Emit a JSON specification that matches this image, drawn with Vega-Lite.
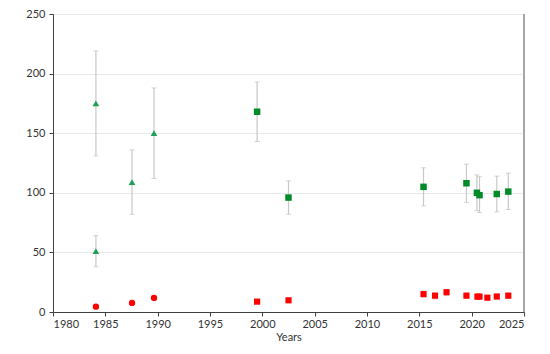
{
  "$schema": "https://vega.github.io/schema/vega-lite/v6.json",
  "autosize": "none",
  "width": 471,
  "height": 298,
  "padding": {"left": 53, "top": 14, "right": 26, "bottom": 42},
  "background": "white",
  "view": {"stroke": "#a6a6a6", "strokeWidth": 1, "fill": "white"},
  "config": {
    "font": "Lato",
    "axis": {"labelFont": "Lato", "titleFont": "Lato", "labelFontSize": 11, "labelColor": "#333333", "titleColor": "#333333", "titleFontWeight": "normal", "titleFontSize": 11}
  },
  "data": {"values": [
    {"year": 1984.1, "value": 175, "lo": 131, "hi": 219, "series": "gt"},
    {"year": 1984.1, "value": 51, "lo": 38, "hi": 64, "series": "gt"},
    {"year": 1987.55, "value": 109, "lo": 82, "hi": 136, "series": "gt"},
    {"year": 1989.65, "value": 150, "lo": 112, "hi": 188, "series": "gt"},
    {"year": 1999.5, "value": 168, "lo": 143, "hi": 193, "series": "gs"},
    {"year": 2002.5, "value": 96, "lo": 82, "hi": 110, "series": "gs"},
    {"year": 2015.4, "value": 105, "lo": 89, "hi": 121, "series": "gs"},
    {"year": 2019.5, "value": 108, "lo": 92, "hi": 124, "series": "gs"},
    {"year": 2020.5, "value": 100, "lo": 85, "hi": 115, "series": "gs"},
    {"year": 2020.75, "value": 98, "lo": 83.5, "hi": 113.5, "series": "gs"},
    {"year": 2022.4, "value": 99, "lo": 84, "hi": 114, "series": "gs"},
    {"year": 2023.5, "value": 101, "lo": 86, "hi": 116.5, "series": "gs"},
    {"year": 1984.1, "value": 4.5, "lo": 3, "hi": 6, "series": "rc"},
    {"year": 1987.55, "value": 7.6, "lo": 7, "hi": 8.2, "series": "rc"},
    {"year": 1989.65, "value": 11.8, "lo": 10.5, "hi": 13, "series": "rc"},
    {"year": 1999.5, "value": 8.7, "lo": 8, "hi": 9.4, "series": "rs"},
    {"year": 2002.5, "value": 9.8, "lo": 9, "hi": 10.6, "series": "rs"},
    {"year": 2015.4, "value": 15, "lo": 12.5, "hi": 17.5, "series": "rs"},
    {"year": 2016.5, "value": 13.7, "lo": 11, "hi": 16, "series": "rs"},
    {"year": 2017.6, "value": 16.6, "lo": 13.7, "hi": 19, "series": "rs"},
    {"year": 2019.5, "value": 13.7, "lo": 11.5, "hi": 16, "series": "rs"},
    {"year": 2020.55, "value": 12.9, "lo": 11, "hi": 15, "series": "rs"},
    {"year": 2020.75, "value": 12.9, "lo": 11, "hi": 15, "series": "rs"},
    {"year": 2021.5, "value": 12, "lo": 10.3, "hi": 14, "series": "rs"},
    {"year": 2022.4, "value": 13, "lo": 11, "hi": 15, "series": "rs"},
    {"year": 2023.5, "value": 13.7, "lo": 11.5, "hi": 16, "series": "rs"}
  ]},
  "layer": [
    {"mark": {"type": "rule", "color": "#a6a6a6", "strokeWidth": 1},
     "encoding": {"x": {"datum": 2025, "type": "quantitative"}}},
    {"mark": {"type": "rule", "color": "#c8c8c8", "strokeWidth": 1.2},
     "encoding": {
       "x": {"field": "year", "type": "quantitative", "scale": {"domain": [1980, 2025], "nice": false, "zero": false},
         "axis": {"title": "Years", "values": [1980,1985,1990,1995,2000,2005,2010,2015,2020,2025], "format": "d", "grid": false, "domainColor": "#404040", "tickColor": "#404040", "tickSize": 4, "labelPadding": 2, "titlePadding": 2}},
       "y": {"field": "lo", "type": "quantitative", "scale": {"domain": [0, 250], "nice": false},
         "axis": {"title": null, "values": [0,50,100,150,200,250], "gridColor": "#e8e8e8", "domainColor": "#404040", "tickColor": "#404040", "tickSize": 4, "labelPadding": 4}},
       "y2": {"field": "hi"}}},
    {"mark": {"type": "tick", "orient": "horizontal", "color": "#c0c0c0", "size": 5, "thickness": 1},
     "encoding": {"x": {"field": "year", "type": "quantitative"}, "y": {"field": "lo", "type": "quantitative"}}},
    {"mark": {"type": "tick", "orient": "horizontal", "color": "#c0c0c0", "size": 5, "thickness": 1},
     "encoding": {"x": {"field": "year", "type": "quantitative"}, "y": {"field": "hi", "type": "quantitative"}}},
    {"mark": {"type": "point", "filled": true, "opacity": 1, "strokeWidth": 0},
     "encoding": {
       "x": {"field": "year", "type": "quantitative"},
       "y": {"field": "value", "type": "quantitative"},
       "shape": {"field": "series", "type": "nominal", "scale": {"domain": ["gt","gs","rc","rs"], "range": ["triangle-up","square","circle","square"]}, "legend": null},
       "color": {"field": "series", "type": "nominal", "scale": {"domain": ["gt","gs","rc","rs"], "range": ["#1f9e55","#008a28","#ff0000","#ff0000"]}, "legend": null},
       "size": {"field": "series", "type": "nominal", "scale": {"domain": ["gt","gs","rc","rs"], "range": [44, 38, 34, 38]}, "legend": null}
     }}
  ]
}
